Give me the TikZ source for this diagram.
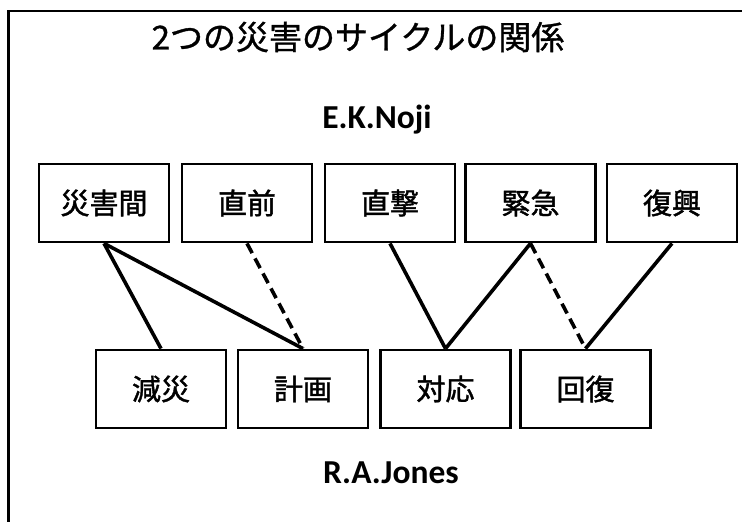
\documentclass[tikz,border=0pt]{standalone}
\usepackage{fontspec}
\setmainfont{Carlito}
\newfontfamily\jpbox[FakeBold=1.4]{Noto Sans CJK JP}
\newfontfamily\jptitle[FakeBold=1.0]{Noto Sans CJK JP}
\begin{document}
\begin{tikzpicture}[x=1pt,y=1pt,
  box/.style={draw,line width=2.8pt,minimum width=130pt,minimum height=78pt,inner sep=0pt,font=\jpbox\fontsize{29}{29}\selectfont},
  link/.style={line width=3.6pt},
  dlink/.style={line width=3.6pt,dash pattern=on 11pt off 6pt},
  author/.style={font=\bfseries\fontsize{33.5}{33.5}\selectfont}]
\useasboundingbox (0,0) rectangle (742,-522);
\clip (0,0) rectangle (742,-522);
\fill[white] (0,0) rectangle (742,-522);
\draw[line width=2.6pt] (8.5,-560) |- (780,-11);
\node[font=\jptitle\fontsize{33}{33}\selectfont] (title) at (358,-37) {2つの災害のサイクルの関係};
\node[author] (noji) at (377,-120) {E.K.Noji};
\node[author] (jones) at (391,-473) {R.A.Jones};
\node[box] (t1) at (104,-203) {災害間};
\node[box] (t2) at (247,-203) {直前};
\node[box] (t3) at (390,-203) {直撃};
\node[box] (t4) at (530.5,-203) {緊急};
\node[box] (t5) at (672,-203) {復興};
\node[box] (b1) at (161,-389) {減災};
\node[box] (b2) at (303,-389) {計画};
\node[box] (b3) at (445.5,-389) {対応};
\node[box] (b4) at (585.5,-389) {回復};
\draw[link] (t1.south) -- (b1.north);
\draw[link] (t1.south) -- (b2.north);
\draw[dlink] (t2.south) -- (b2.north);
\draw[link] (t3.south) -- (b3.north);
\draw[link] (t4.south) -- (b3.north);
\draw[dlink] (t4.south) -- (b4.north);
\draw[link] (t5.south) -- (b4.north);
\end{tikzpicture}
\end{document}
